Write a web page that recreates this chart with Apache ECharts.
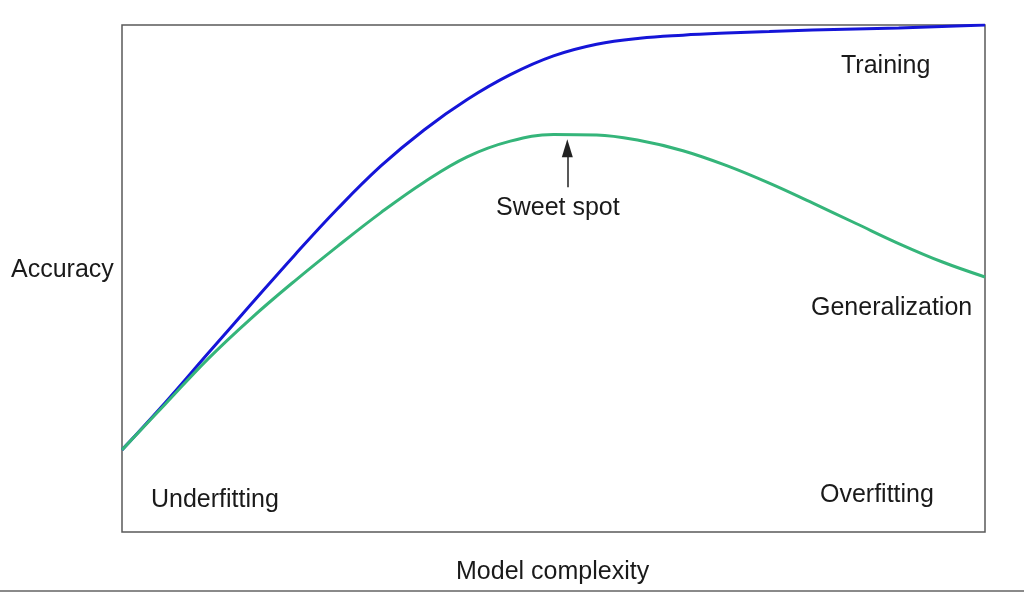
<!DOCTYPE html>
<html>
<head>
<meta charset="utf-8">
<script src="https://cdn.jsdelivr.net/npm/echarts@6/dist/echarts.min.js"></script>
<style>html,body{margin:0;padding:0;background:#fff;}#c{width:1024px;height:593px;}</style>
</head>
<body>
<div id="c"></div>
<script>
// Model complexity (0-100) vs accuracy (0-100)
const complexity = [0, 5, 10, 15, 20, 25, 30, 35, 40, 45, 50, 55, 60, 65, 70, 75, 80, 85, 90, 95, 100];
const training = [16.2, 25.5, 35.3, 45.0, 54.6, 63.8, 72.2, 79.3, 85.3, 90.2, 93.9, 96.2, 97.4, 98.0, 98.4, 98.7, 99.0, 99.2, 99.4, 99.7, 100];
const generalization = [16.2, 25.2, 34.2, 42.2, 49.5, 56.4, 63.0, 69.0, 74.0, 77.1, 78.4, 78.3, 77.2, 75.2, 72.3, 68.8, 64.9, 60.9, 56.9, 53.3, 50.3];
const sweetSpotX = 51.6;
const sweetSpotArrow = [68.0, 75.7];
const xAxisName = 'Model complexity';
const yAxisName = 'Accuracy';

const zip = (xs, ys) => xs.map((x, i) => [x, ys[i]]);
const font = '"Liberation Sans", Arial, sans-serif';
const txt = (text, left, top) => ({
  type: 'text', left: left, top: top,
  style: { text: text, font: '25px ' + font, fill: '#1a1a1a' }
});

const chart = echarts.init(document.getElementById('c'), null, { renderer: 'canvas' });
chart.setOption({
  backgroundColor: '#ffffff',
  animation: false,
  grid: { left: 122, right: 39, top: 25, bottom: 61, show: true, borderColor: '#5a5a5a', borderWidth: 1.5, backgroundColor: 'transparent' },
  xAxis: { type: 'value', min: 0, max: 100, axisLine: { show: false }, axisTick: { show: false }, axisLabel: { show: false }, splitLine: { show: false } },
  yAxis: { type: 'value', min: 0, max: 100, axisLine: { show: false }, axisTick: { show: false }, axisLabel: { show: false }, splitLine: { show: false } },
  series: [
    {
      name: 'Generalization', type: 'line', data: zip(complexity, generalization),
      smooth: 0.4, showSymbol: false, lineStyle: { color: '#35b57a', width: 3 }, z: 2,
      markLine: {
        silent: true, symbol: ['none', 'triangle'], symbolSize: [11, 18],
        lineStyle: { color: '#222', width: 1.5, type: 'solid' },
        label: { show: false },
        data: [[{ coord: [sweetSpotX, sweetSpotArrow[0]] }, { coord: [sweetSpotX, sweetSpotArrow[1]] }]]
      }
    },
    {
      name: 'Training', type: 'line', data: zip(complexity, training),
      smooth: 0.4, showSymbol: false, lineStyle: { color: '#1515d8', width: 3 }, z: 1
    }
  ],
  graphic: [
    txt('Training', 841, 54),
    txt('Sweet spot', 496, 196),
    txt('Generalization', 811, 296),
    txt('Underfitting', 151, 488),
    txt('Overfitting', 820, 483),
    txt(yAxisName, 11, 258),
    txt(xAxisName, 456, 560),
    { type: 'rect', left: 0, top: 590, shape: { width: 1024, height: 2 }, style: { fill: '#8a8a8a' } }
  ]
});
</script>
</body>
</html>
